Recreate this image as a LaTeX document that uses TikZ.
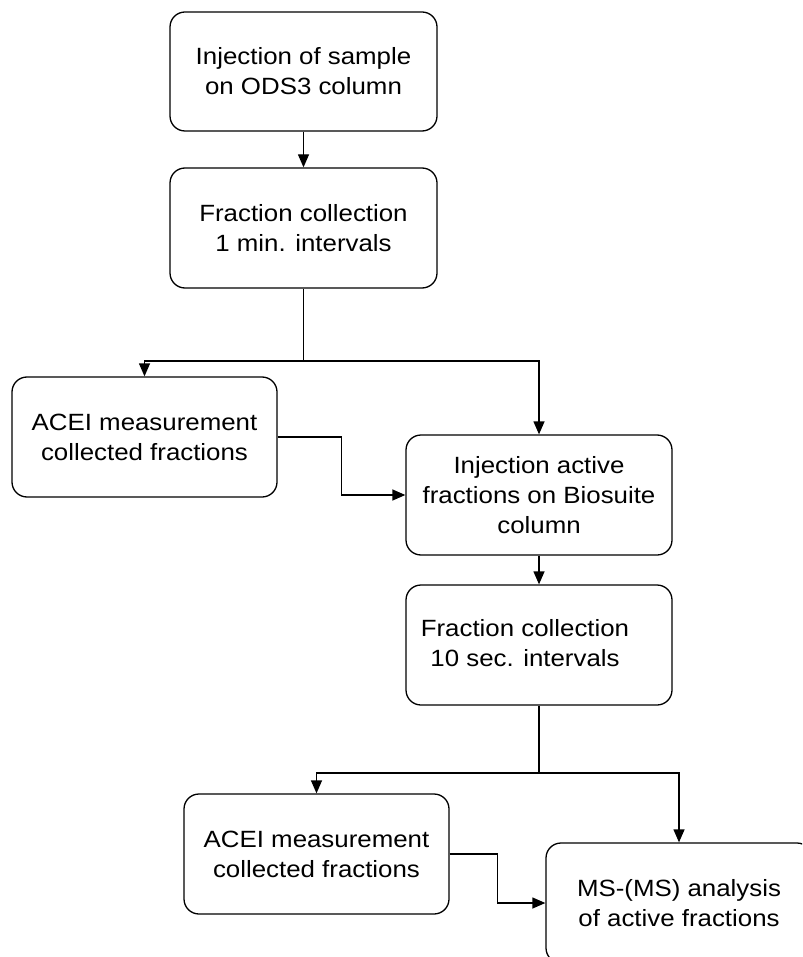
\documentclass[tikz,border=0pt]{standalone}
\usepackage{fontspec}
\setmainfont{Liberation Sans}[FakeStretch=1.1]
\usetikzlibrary{arrows.meta,calc}
\begin{document}
\begin{tikzpicture}[x=1pt,y=-1pt,
  flowbox/.style={draw,line width=1.3pt,rounded corners=15pt,minimum width=266pt,minimum height=120pt,inner sep=0pt,align=center,font=\fontsize{23.5pt}{30pt}\selectfont},
  arr/.style={line width=1.3pt,-{Triangle[length=13pt,width=11pt]}},
  ln/.style={line width=1.3pt}]
\useasboundingbox (0,0) rectangle (802,957);
\clip (0,0) rectangle (802,957);
\node[flowbox,minimum height=119pt,minimum width=267pt] (b1) at (303.5,71.5) {Injection of sample\\on ODS3 column};
\node[flowbox,minimum width=267pt] (b2) at (303.5,228) {Fraction collection\\1 min. intervals};
\node[flowbox,minimum width=265pt] (b3) at (144.5,437) {ACEI measurement\\collected fractions};
\node[flowbox] (b4) at (539,495) {Injection active\\fractions on Biosuite\\column};
\node[flowbox] (b5) at (539,645) {\begin{tabular}{@{}c@{\hspace{28pt}}}Fraction collection\\10 sec. intervals\end{tabular}};
\node[flowbox,minimum width=265pt] (b6) at (316.5,854) {ACEI measurement\\collected fractions};
\node[flowbox] (b7) at (679,903) {MS-(MS) analysis\\of active fractions};
\coordinate (j1) at (303.5,361);
\coordinate (j2) at (539,773);
\draw[arr] (b1.south) -- (b2.north);
\draw[ln] (b2.south) -- (j1);
\draw[arr] (j1) -| (b3.north);
\draw[arr] (j1) -| (b4.north);
\draw[arr] (b3.east) -| ($(b3.east)!.5!(b4.west)$) |- (b4.west);
\draw[arr] (b4.south) -- (b5.north);
\draw[ln] (b5.south) -- (j2);
\draw[arr] (j2) -| (b6.north);
\draw[arr] (j2) -| (b7.north);
\draw[arr] (b6.east) -| ($(b6.east)!.5!(b7.west)$) |- (b7.west);
\end{tikzpicture}
\end{document}
